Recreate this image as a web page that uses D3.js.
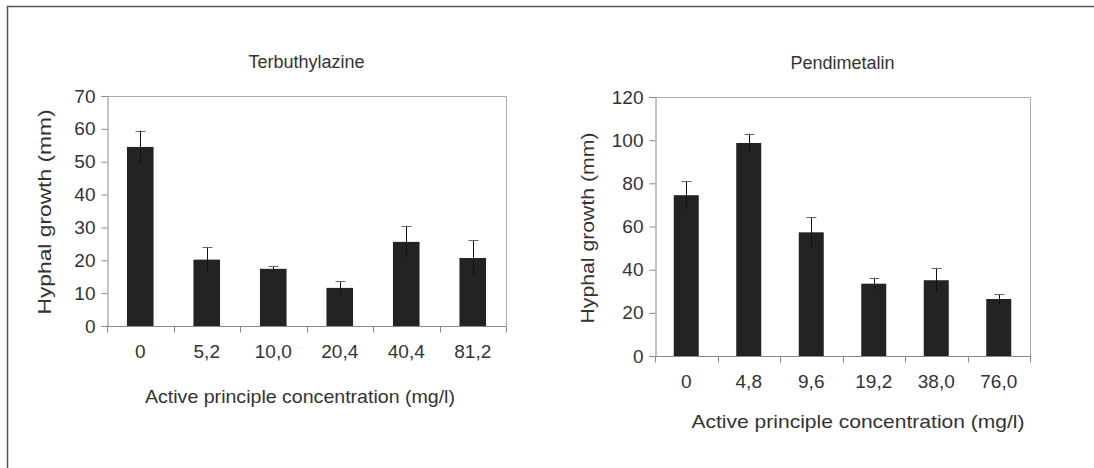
<!DOCTYPE html>
<html>
<head>
<meta charset="utf-8">
<script src="https://cdn.jsdelivr.net/npm/d3@7"></script>
<style>
  html, body { margin: 0; padding: 0; background: #fff; }
  svg { display: block; }
  text { font-family: 'Liberation Sans', Arial, sans-serif; fill: #333; }
</style>
</head>
<body>
<svg id="chart"></svg>
<script>
const SVG_MEASURES = { width: 1094, height: 468 }

// Terbuthylazine
const terbCategories = ['0', '5,2', '10,0', '20,4', '40,4', '81,2']
const terbValues = [54.5, 20.2, 17.4, 11.6, 25.6, 20.7]
const terbErrors = [5.0, 3.9, 0.9, 2.0, 4.9, 5.4]
const terbTicks = [0, 10, 20, 30, 40, 50, 60, 70]

// Pendimetalin
const pendCategories = ['0', '4,8', '9,6', '19,2', '38,0', '76,0']
const pendValues = [74.5, 98.7, 57.3, 33.5, 35.1, 26.4]
const pendErrors = [6.5, 4.3, 7.0, 2.8, 5.7, 2.3]
const pendTicks = [0, 20, 40, 60, 80, 100, 120]

const svg = d3.select('#chart')
  .attr('width', SVG_MEASURES.width)
  .attr('height', SVG_MEASURES.height)

// outer frame (only top and left edges are inside the picture)
svg.append('path')
  .attr('d', `M7.5,${SVG_MEASURES.height} V6.5 H${SVG_MEASURES.width}`)
  .attr('fill', 'none')
  .attr('stroke', '#555')
  .attr('stroke-width', 1.5)

drawPanel({
  title: 'Terbuthylazine',
  categories: terbCategories,
  values: terbValues,
  errors: terbErrors,
  ticks: terbTicks,
  box: { left: 107, right: 506, top: 96, bottom: 326 },
  titleY: 68,
  xTitle: { x: 300, y: 403, len: 310 },
  yTitle: { x: 51, y: 212, len: 205 }
})

drawPanel({
  title: 'Pendimetalin',
  categories: pendCategories,
  values: pendValues,
  errors: pendErrors,
  ticks: pendTicks,
  box: { left: 655, right: 1030, top: 97, bottom: 356 },
  titleY: 69,
  xTitle: { x: 858, y: 428, len: 333 },
  yTitle: { x: 594, y: 228, len: 191 }
})

function drawPanel(cfg) {
  const b = cfg.box
  const g = svg.append('g')

  const x = d3.scaleBand()
    .domain(cfg.categories)
    .range([b.left, b.right])
    .padding(0)

  const y = d3.scaleLinear()
    .domain([0, d3.max(cfg.ticks)])
    .range([b.bottom, b.top])

  const barWidth = x.bandwidth() * 0.4

  // plot frame top/right
  g.append('path')
    .attr('d', `M${b.left},${b.top + 0.5} H${b.right + 0.5} V${b.bottom}`)
    .attr('fill', 'none')
    .attr('stroke', '#aaa')
    .attr('stroke-width', 1)

  // bars
  g.selectAll('rect.bar')
    .data(cfg.values)
    .join('rect')
      .attr('class', 'bar')
      .attr('x', (d, i) => x(cfg.categories[i]) + (x.bandwidth() - barWidth) / 2)
      .attr('y', d => y(d))
      .attr('width', barWidth)
      .attr('height', d => y(0) - y(d))
      .attr('fill', '#232323')

  // error bars
  const err = g.selectAll('g.err')
    .data(cfg.values.map((v, i) => ({ v, e: cfg.errors[i], c: cfg.categories[i] })))
    .join('g')
      .attr('class', 'err')
      .attr('transform', d => `translate(${Math.round(x(d.c) + x.bandwidth() / 2) + 0.5},0)`)

  err.append('line')
    .attr('y1', d => y(d.v - d.e))
    .attr('y2', d => y(d.v + d.e))
    .attr('stroke', '#111')

  err.append('line')
    .attr('x1', -5).attr('x2', 5)
    .attr('y1', d => Math.round(y(d.v + d.e)) + 0.5)
    .attr('y2', d => Math.round(y(d.v + d.e)) + 0.5)
    .attr('stroke', '#666')

  // y axis
  const yAxis = d3.axisLeft(y)
    .tickValues(cfg.ticks)
    .tickSize(6)
    .tickPadding(6)
  const ya = g.append('g')
    .attr('transform', `translate(${b.left + 0.5},0)`)
    .call(yAxis)
  ya.select('.domain').attr('stroke', '#888')
  ya.selectAll('.tick line').attr('stroke', '#888')
  ya.selectAll('.tick text')
    .style('font-size', '19px')
    .attr('fill', '#333')

  // x axis: ticks at the band edges, labels centred in bands
  const xa = g.append('g')
    .attr('transform', `translate(0,${b.bottom + 0.5})`)
  xa.append('line')
    .attr('x1', b.left).attr('x2', b.right + 0.5)
    .attr('stroke', '#888')
  xa.selectAll('line.edge')
    .data(d3.range(cfg.categories.length + 1))
    .join('line')
      .attr('class', 'edge')
      .attr('x1', i => Math.round(b.left + i * x.step()) + 0.5)
      .attr('x2', i => Math.round(b.left + i * x.step()) + 0.5)
      .attr('y1', 0).attr('y2', 6)
      .attr('stroke', '#888')
  xa.selectAll('text')
    .data(cfg.categories)
    .join('text')
      .attr('x', d => x(d) + x.bandwidth() / 2)
      .attr('y', 31)
      .attr('text-anchor', 'middle')
      .style('font-size', '19px')
      .text(d => d)

  // titles
  g.append('text')
    .attr('x', (b.left + b.right) / 2)
    .attr('y', cfg.titleY)
    .attr('text-anchor', 'middle')
    .style('font-size', '18px')
    .text(cfg.title)

  g.append('text')
    .attr('x', cfg.xTitle.x)
    .attr('y', cfg.xTitle.y)
    .attr('text-anchor', 'middle')
    .attr('textLength', cfg.xTitle.len)
    .attr('lengthAdjust', 'spacingAndGlyphs')
    .style('font-size', '19px')
    .text('Active principle concentration (mg/l)')

  g.append('text')
    .attr('transform', `translate(${cfg.yTitle.x},${cfg.yTitle.y}) rotate(-90)`)
    .attr('text-anchor', 'middle')
    .attr('textLength', cfg.yTitle.len)
    .attr('lengthAdjust', 'spacingAndGlyphs')
    .style('font-size', '19px')
    .text('Hyphal growth (mm)')
}
</script>
</body>
</html>
